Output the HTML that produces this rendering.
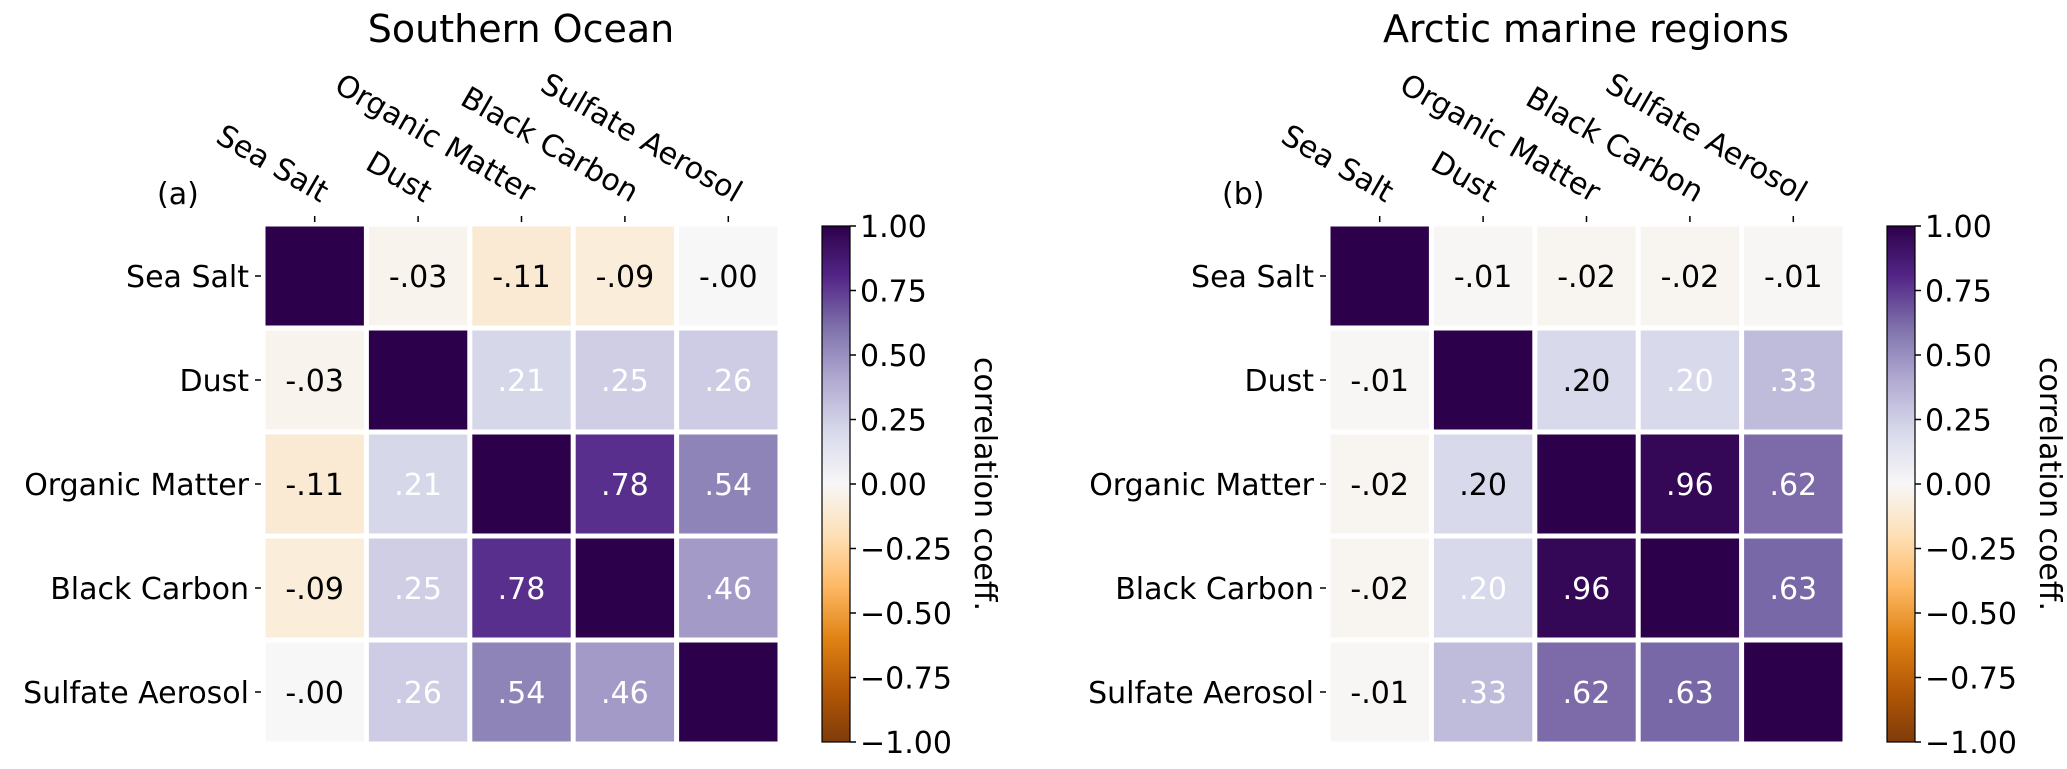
<!DOCTYPE html>
<html><head><meta charset="utf-8"><style>
html,body{margin:0;padding:0;background:#fff;}
svg{display:block;font-family:"DejaVu Sans","Liberation Sans",sans-serif;}
</style></head><body>
<svg id="fig" width="2067" height="769" viewBox="0 0 2067 769" xmlns="http://www.w3.org/2000/svg">
<defs>
<linearGradient id="puor" x1="0" y1="1" x2="0" y2="0">
<stop offset="0" stop-color="#7f3b08"/><stop offset="0.1" stop-color="#b35806"/><stop offset="0.2" stop-color="#e08214"/><stop offset="0.3" stop-color="#fdb863"/><stop offset="0.4" stop-color="#fee0b6"/><stop offset="0.5" stop-color="#f7f7f7"/><stop offset="0.6" stop-color="#d8daeb"/><stop offset="0.7" stop-color="#b2abd2"/><stop offset="0.8" stop-color="#8073ac"/><stop offset="0.9" stop-color="#542788"/><stop offset="1" stop-color="#2d004b"/>
</linearGradient>
</defs>
</svg>
<script>
const categories = ["Sea Salt","Dust","Organic Matter","Black Carbon","Sulfate Aerosol"];
const southernValues = [
 [1,-0.03,-0.11,-0.09,-0.001],
 [-0.03,1,0.21,0.25,0.26],
 [-0.11,0.21,1,0.78,0.54],
 [-0.09,0.25,0.78,1,0.46],
 [-0.001,0.26,0.54,0.46,1]
];
const arcticValues = [
 [1,-0.01,-0.02,-0.02,-0.01],
 [-0.01,1,0.199,0.201,0.33],
 [-0.02,0.199,1,0.96,0.62],
 [-0.02,0.201,0.96,1,0.63],
 [-0.01,0.33,0.62,0.63,1]
];
const colorbarTicks = [1,0.75,0.5,0.25,0,-0.25,-0.5,-0.75,-1];
const colorbarTickLabels = ["1.00","0.75","0.50","0.25","0.00","\u22120.25","\u22120.50","\u22120.75","\u22121.00"];
const panelTitles = ["Southern Ocean","Arctic marine regions"];
const panelLetters = ["(a)","(b)"];

const NS="http://www.w3.org/2000/svg";
const svg=document.getElementById('fig');
const stops=[[0x7f,0x3b,0x08],[0xb3,0x58,0x06],[0xe0,0x82,0x14],[0xfd,0xb8,0x63],[0xfe,0xe0,0xb6],[0xf7,0xf7,0xf7],[0xd8,0xda,0xeb],[0xb2,0xab,0xd2],[0x80,0x73,0xac],[0x54,0x27,0x88],[0x2d,0x00,0x4b]];
function cmap(v){let t=(v+1)/2;t=Math.max(0,Math.min(1,t));const p=t*10;const i=Math.min(9,Math.floor(p));const f=p-i;const a=stops[i],b=stops[i+1];return 'rgb('+a.map((c,k)=>Math.round(c+(b[k]-c)*f)).join(',')+')';}
function fmt(v){const s=Math.abs(v).toFixed(2).replace(/^0/,'');return (v<0?'-':'')+s;}
function mk(tag,attrs,parent){const e=document.createElementNS(NS,tag);for(const k in attrs)e.setAttribute(k,attrs[k]);(parent||svg).appendChild(e);return e;}

const X0=263,Y0=224,PX=103.4,PY=104,GAP=5;
function drawPanel(off,vals,title,letter){
 const g=mk('g',{});
 
 
 const x0=X0+off;
 const xs=i=>x0+i*PX, ys=j=>Y0+j*PY;
 const t=mk('text',{x:x0+258,y:42,'font-size':38,'text-anchor':'middle',fill:'#000'},g);
 t.textContent=title;
 
 
 const l=mk('text',{x:x0-106,y:204,'font-size':30,fill:'#000'},g);
 l.textContent=letter;
 
 
 for(let j=0;j<categories.length;j++){
  for(let i=0;i<categories.length;i++){
   const v=vals[j][i];
   const r=mk('rect',{x:xs(i)+GAP/2,y:ys(j)+GAP/2,width:PX-GAP,height:PY-GAP,fill:cmap(v)},g);
   
   
   if(i!==j){
    const tx=mk('text',{x:xs(i)+PX/2,y:ys(j)+PY/2+11,'font-size':30,'text-anchor':'middle',fill:v>=0.2?'#fff':'#000'},g);
    tx.textContent=fmt(v);
    
    
   }
  }
 }
 categories.forEach((c,k)=>{
  const cy=ys(k)+PY/2;
  const tk=mk('line',{x1:x0-8,x2:x0-2,y1:cy,y2:cy,stroke:'#000','stroke-width':1.5},g);
  
  
  const yl=mk('text',{x:x0-14,y:cy+11,'font-size':30,'text-anchor':'end',fill:'#000'},g);
  yl.textContent=c;
  
  
  const cx=xs(k)+PX/2;
  const tk2=mk('line',{x1:cx,x2:cx,y1:216,y2:222,stroke:'#000','stroke-width':1.5},g);
  
  
  const xl=mk('text',{x:cx+6,y:203,'font-size':30,'text-anchor':'end',fill:'#000',transform:'rotate(30 '+(cx+6)+' 203)'},g);
  xl.textContent=c;
  
  
 });
 const cbx=822+off, cbTop=Y0+2, cbBot=Y0+5*PY-2, cbw=28;
 const cy=v=>cbBot-(v+1)/2*(cbBot-cbTop);
 const cb=mk('rect',{x:cbx,y:cbTop,width:cbw,height:cbBot-cbTop,fill:'url(#puor)',stroke:'#000','stroke-width':1.2},g);
 
 
 colorbarTicks.forEach((v,k)=>{
  const y=cy(v);
  const tl=mk('line',{x1:cbx+cbw,x2:cbx+cbw+6,y1:y,y2:y,stroke:'#000','stroke-width':1.5},g);
  
  
  const tt=mk('text',{x:cbx+cbw+10,y:y+11,'font-size':30,fill:'#000'},g);
  tt.textContent=colorbarTickLabels[k];
  
  
 });
 const lx=cbx+153, ly=(cbTop+cbBot)/2;
 const lab=mk('text',{x:lx,y:ly,'font-size':30,'text-anchor':'middle',fill:'#000',transform:'rotate(90 '+lx+' '+ly+')'},g);
 lab.textContent='correlation coeff.';
 
 
}
drawPanel(0,southernValues,panelTitles[0],panelLetters[0]);
drawPanel(1065,arcticValues,panelTitles[1],panelLetters[1]);
</script>
</body></html>
